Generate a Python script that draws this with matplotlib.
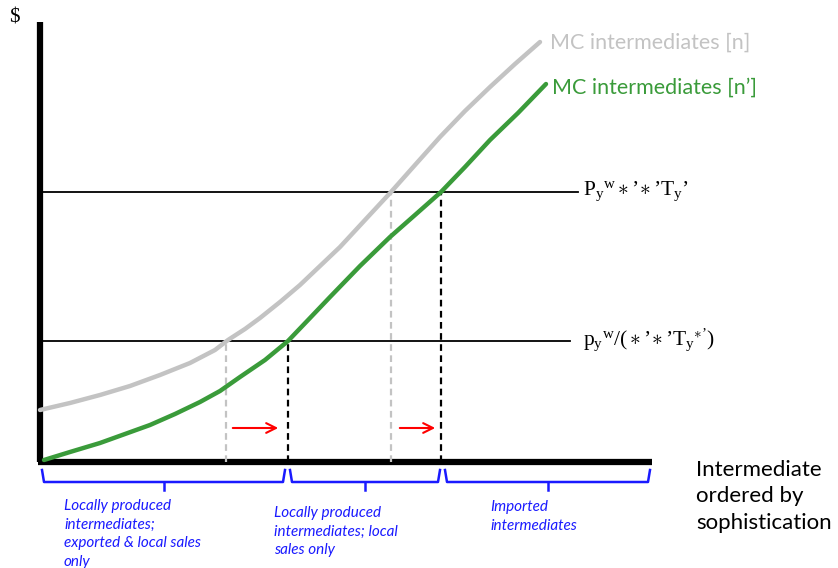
import matplotlib
matplotlib.use("Agg")
import matplotlib.pyplot as plt
from matplotlib.patches import FancyArrowPatch

plt.rcParams['mathtext.fontset'] = 'custom'
plt.rcParams['mathtext.rm'] = 'Liberation Serif'
plt.rcParams['mathtext.it'] = 'Liberation Serif:italic'
plt.rcParams['mathtext.fallback'] = 'cm'

# MC curves (x = sophistication rank, y = $)
gray_x = [0, 30, 60, 90, 120, 150, 175, 188, 205, 220, 240, 260, 280, 300, 325, 351, 375, 400, 425, 450, 475, 500]
gray_y = [52, 59, 67, 76, 87, 99, 112, 122, 133, 144, 160, 177, 196, 215, 242, 270, 297, 325, 351, 375, 398, 420]
green_x = [4, 30, 60, 85, 110, 135, 160, 180, 200, 225, 248, 270, 290, 320, 350, 375, 401, 425, 450, 478, 506]
green_y = [2, 10, 19, 28, 37, 48, 60, 71, 85, 102, 121, 144, 165, 196, 225, 247, 270, 295, 322, 349, 378]

# price levels
p_high = 270
p_low = 121
label_high = r"$\mathrm{P_y{}^w}\ast\mathrm{’}\!\ast\mathrm{’T_y’}$"
label_low = r"$\mathrm{p_y{}^w/(}\ast\mathrm{’}\!\ast\mathrm{’T_y{}^{\ast’}})$"

# cut-off intermediates
cut_gray_low, cut_green_low = 186, 248
cut_gray_high, cut_green_high = 351, 401
x_end = 612

curve_labels = ["MC intermediates [n]", "MC intermediates [n’]"]
region_labels = ["Locally produced\nintermediates;\nexported & local sales\nonly",
                 "Locally produced\nintermediates; local\nsales only",
                 "Imported\nintermediates"]
xlabel = "Intermediate\nordered by\nsophistication"
ylabel = "$"

GRAY = "#c3c3c3"
GREEN = "#3a9b3a"
BLUE = "#1a1aff"
SERIF = ['Liberation Serif', 'DejaVu Serif']

fig = plt.figure(figsize=(8.38, 5.68), dpi=100)
ax = fig.add_axes([0, 0, 1, 1])
ax.set_xlim(-40, 798)
ax.set_ylim(-106, 462)
ax.axis('off')

# axes
ax.plot([0, 0], [0, 440], color='black', lw=4.5, solid_capstyle='butt')
ax.plot([-2, x_end], [0, 0], color='black', lw=4.5, solid_capstyle='butt')

# horizontal price lines
ax.plot([0, 538], [p_high, p_high], color='black', lw=1.3)
ax.plot([0, 530], [p_low, p_low], color='black', lw=1.3)

# dashed verticals
ax.plot([cut_gray_low, cut_gray_low], [0, p_low], color=GRAY, lw=1.6, ls=(0, (3, 2)))
ax.plot([cut_gray_high, cut_gray_high], [0, p_high], color=GRAY, lw=1.6, ls=(0, (3, 2)))
ax.plot([cut_green_low, cut_green_low], [0, p_low], color='black', lw=1.6, ls=(0, (3, 2)))
ax.plot([cut_green_high, cut_green_high], [0, p_high], color='black', lw=1.6, ls=(0, (3, 2)))

# curves
ax.plot(gray_x, gray_y, color=GRAY, lw=3.2, solid_capstyle='round')
ax.plot(green_x, green_y, color=GREEN, lw=3.2, solid_capstyle='round')

# red arrows
for x0, x1 in [(cut_gray_low + 4, cut_green_low - 7), (cut_gray_high + 6, cut_green_high - 3)]:
    ax.add_patch(FancyArrowPatch((x0, 34), (x1, 34), arrowstyle='->,head_length=7,head_width=3.5',
                                 color='red', lw=1.5, mutation_scale=1))

# labels
ax.text(510, 419, curve_labels[0], color=GRAY, fontsize=15.5, family='Lato', va='center', ha='left')
ax.text(512, 374, curve_labels[1], color=GREEN, fontsize=15.5, family='Lato', va='center', ha='left')
ax.text(543, p_high + 1, label_high, fontsize=15.5, family=SERIF, va='center', ha='left')
ax.text(543, p_low + 1, label_low, fontsize=15.5, family=SERIF, va='center', ha='left')
ax.text(-31, 454, ylabel, fontsize=15, family=SERIF, va='top', ha='left')
ax.text(656, 2, xlabel, fontsize=16, family='Lato', va='top', ha='left', linespacing=1.4)


# braces
def brace(xa, xb, y_top=-8, depth=12, tip=8):
    xm = (xa + xb) / 2
    yb = y_top - depth
    ax.plot([xa, xa + 2, xb - 2, xb], [y_top, yb, yb, y_top], color=BLUE, lw=1.8)
    ax.plot([xm, xm], [yb, yb - tip], color=BLUE, lw=1.8)


brace(2, 245)
brace(250, 400)
brace(405, 610)

ax.text(24, -37, region_labels[0], color=BLUE, fontsize=11, family='Lato', style='italic',
        va='top', ha='left', linespacing=1.42)
ax.text(234, -44, region_labels[1], color=BLUE, fontsize=11, family='Lato', style='italic',
        va='top', ha='left', linespacing=1.42)
ax.text(450, -38, region_labels[2], color=BLUE, fontsize=11, family='Lato', style='italic',
        va='top', ha='left', linespacing=1.42)

fig.savefig("out.png", dpi=100)
